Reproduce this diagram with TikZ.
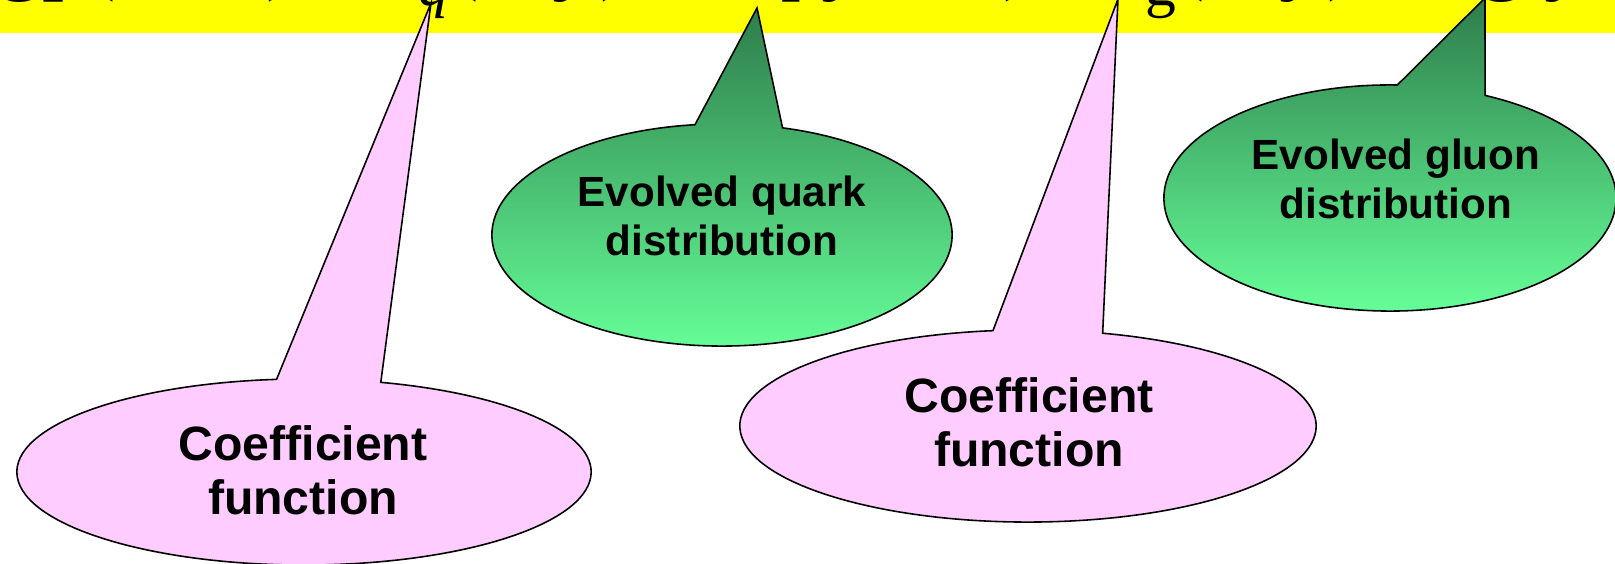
\documentclass[tikz,border=0pt]{standalone}
\usepackage{fontspec}
\newfontfamily\eqfont{Liberation Serif}
\newfontfamily\callfont{Liberation Sans}
\usetikzlibrary{shapes.callouts,positioning}
\definecolor{bandyellow}{RGB}{255,255,0}
\definecolor{coefpink}{RGB}{255,204,255}
\definecolor{distdark}{RGB}{46,125,75}
\definecolor{distlight}{RGB}{102,255,153}
\tikzset{
  coefcall/.style={ellipse callout, draw, fill=coefpink,
    inner sep=0pt, line width=0.45pt},
  distcall/.style={ellipse callout, draw, top color=distdark,
    bottom color=distlight, inner sep=0pt, line width=0.45pt},
  coeftext/.style={align=center,
    font=\callfont\bfseries\fontsize{13.7}{15.4}\selectfont},
  disttext/.style={align=center,
    font=\callfont\bfseries\fontsize{12}{14.1}\selectfont},
  eqtext/.style={inner sep=0pt, font=\eqfont\fontsize{25}{30}\selectfont},
}
\newcommand{\lowidx}[1]{\raisebox{-0.21cm}{\fontsize{17.5}{20}\selectfont #1}}
\newcommand{\iv}[1]{{\itshape #1}}

\begin{document}
\begin{tikzpicture}[x=0.01cm, y=-0.01cm]
  \useasboundingbox (0,0) rectangle (1615,564);
  \clip (0,0) rectangle (1615,564);

  % Formula band
  \fill[bandyellow] (0,0) rectangle (1615,33);

  % Callouts
  \node[coefcall, minimum width=5.74cm, minimum height=1.86cm,
        callout pointer arc=21, callout absolute pointer={(431,3)}]
        (coefq) at (304,472) {};
  \node[distcall, minimum width=4.60cm, minimum height=2.22cm,
        callout pointer arc=22, callout absolute pointer={(757,8)}]
        (quark) at (722,235) {};
  \node[coefcall, minimum width=5.76cm, minimum height=1.92cm,
        callout pointer arc=22, callout absolute pointer={(1118,-1)}]
        (coefg) at (1028,426) {};
  \node[distcall, minimum width=4.52cm, minimum height=2.26cm,
        callout pointer arc=23, callout absolute pointer={(1485,-2)}]
        (gluon) at (1390,198) {};

  % Labels
  \node[coeftext] (coefqlbl) at (303,470) {Coefficient\\function};
  \node[disttext] (quarklbl) at (722,216) {Evolved quark\\distribution};
  \node[coeftext] (coefglbl) at (1029,422) {Coefficient\\function};
  \node[disttext] (gluonlbl) at (1396,179) {Evolved gluon\\distribution};

  % Formula (cut off by the top edge)
  \node[eqtext, anchor=base west] (formula) at (-2,-16)
    {gp(\iv{x},\iv{Q}²)\hspace{0.07cm}=\hspace{0.07cm}\iv{C}\lowidx{\iv{q}}(\iv{x}, \iv{y})\hspace{0.30cm}$\otimes$\hspace{0.30cm}q(\iv{y}, \iv{Q}²)\hspace{0.02cm}+\hspace{0.02cm}\iv{C}\lowidx{g}(\iv{x}, \iv{y})\hspace{0.28cm}$\otimes$\hspace{0.28cm}g(\iv{y},\iv{Q}²)};
\end{tikzpicture}
\end{document}
